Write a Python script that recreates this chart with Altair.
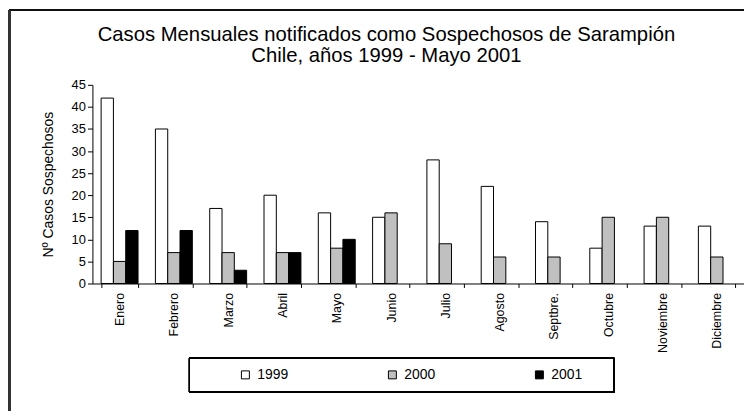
import altair as alt
import pandas as pd

months = ["Enero", "Febrero", "Marzo", "Abril", "Mayo", "Junio", "Julio",
          "Agosto", "Septbre.", "Octubre", "Noviembre", "Diciembre"]
years = ["1999", "2000", "2001"]
v1999 = [42, 35, 17, 20, 16, 15, 28, 22, 14, 8, 13, 13]
v2000 = [5, 7, 7, 7, 8, 16, 9, 6, 6, 15, 15, 6]
v2001 = [12, 12, 3, 7, 10]
colors = ["#ffffff", "#c0c0c0", "#000000"]
y_ticks = [0, 5, 10, 15, 20, 25, 30, 35, 40, 45]

rows = []
for series, year in zip([v1999, v2000, v2001], years):
    for m, v in zip(months, series):
        rows.append({"mes": m, "anio": year, "casos": v})
df = pd.DataFrame(rows)

FONT = "Liberation Sans"

bars = alt.Chart(df).mark_bar(stroke="black", strokeWidth=1).encode(
    x=alt.X("mes:N", sort=months,
            scale=alt.Scale(paddingInner=0.32, paddingOuter=0.16),
            axis=alt.Axis(title=None, labelAngle=-90, labelFontSize=12.5,
                          labelFont=FONT, labelColor="black",
                          tickBand="extent", tickSize=4, tickColor="black",
                          domainColor="black", labelPadding=5)),
    xOffset=alt.XOffset("anio:N", sort=years,
                        scale=alt.Scale(paddingInner=0, paddingOuter=0)),
    y=alt.Y("casos:Q",
            scale=alt.Scale(domain=[0, 45], nice=False),
            axis=alt.Axis(title="Nº  Casos Sospechosos", values=y_ticks,
                          grid=False, tickSize=5, tickColor="black",
                          domainColor="black", labelFontSize=13,
                          labelFont=FONT, labelColor="black", labelPadding=2,
                          titleFont=FONT, titleFontSize=14,
                          titleFontWeight="normal", titleColor="black",
                          titlePadding=16)),
    color=alt.Color("anio:N", sort=years,
                    scale=alt.Scale(domain=years, range=colors),
                    legend=alt.Legend(title=None, orient="none",
                                      direction="horizontal",
                                      legendX=147, legendY=285,
                                      symbolType="square", symbolSize=64,
                                      symbolStrokeColor="black",
                                      symbolStrokeWidth=1, symbolOpacity=1,
                                      labelFontSize=14, labelFont=FONT,
                                      labelColor="black", labelOffset=5,
                                      columnPadding=97, padding=0)),
)

legend_box = alt.Chart(df).mark_rect(
    fill=None, stroke="black", strokeWidth=1
).encode(x=alt.value(97.7), x2=alt.value(525.3),
         y=alt.value(275.3), y2=alt.value(309.3))

frame_top = alt.Chart(df).mark_rule(color="#111111", strokeWidth=1.5).encode(
    x=alt.value(-84), x2=alt.value(700), y=alt.value(-75))
frame_left = alt.Chart(df).mark_rule(color="#333333", strokeWidth=1.5).encode(
    x=alt.value(-83.5), y=alt.value(-75), y2=alt.value(400))

chart = alt.layer(frame_top, frame_left, legend_box, bars).properties(
    width=656, height=200,
    title=alt.TitleParams(
        text=["Casos Mensuales notificados como Sospechosos de Sarampión",
              "Chile, años 1999 - Mayo 2001"],
        font=FONT, fontSize=20.4, fontWeight="normal", color="black",
        anchor="middle", frame="group", dx=-32, dy=73, offset=16,
        lineHeight=21),
    autosize=alt.AutoSizeParams(type="none"),
    padding={"left": 85, "top": 76, "right": 0, "bottom": 127},
).configure_view(stroke=None)

chart.save("out.html", embed_options={"renderer": "svg", "actions": False})
